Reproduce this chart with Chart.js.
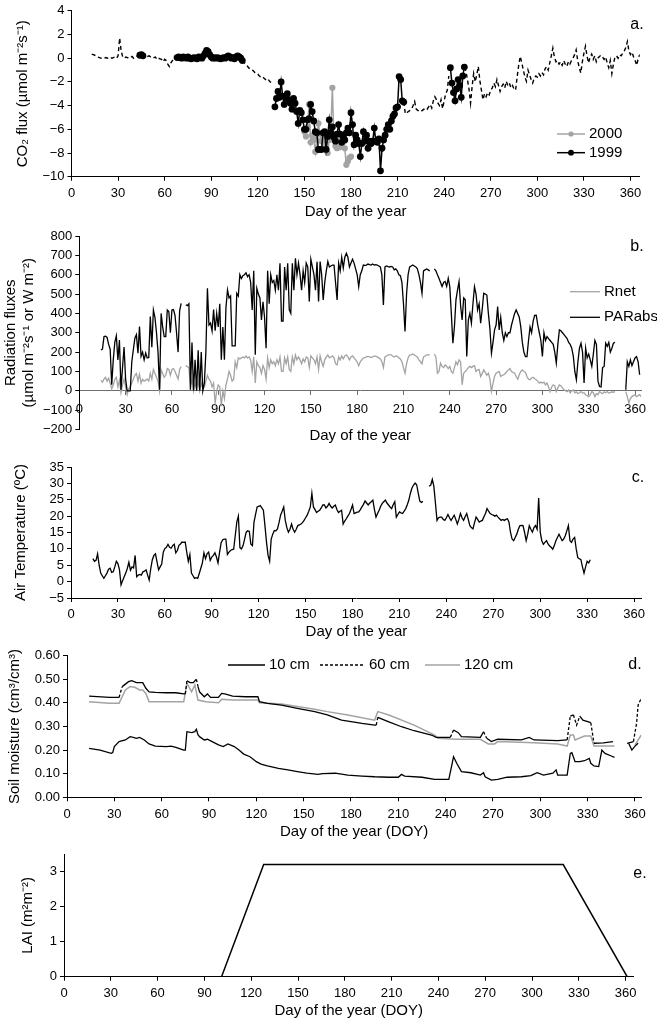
<!DOCTYPE html>
<html>
<head>
<meta charset="utf-8">
<script src="https://cdn.jsdelivr.net/npm/chart.js@4.4.1/dist/chart.umd.min.js"></script>
<style>
  html, body { margin: 0; padding: 0; background: #fff; }
  #wrap { position: relative; width: 657px; height: 1020px; overflow: hidden; }
  canvas { position: absolute; left: 0; }
</style>
</head>
<body>
<div id="wrap">
  <canvas id="chartA" width="657" height="221" style="top:0px"></canvas>
  <canvas id="chartB" width="657" height="224" style="top:221px"></canvas>
  <canvas id="chartC" width="657" height="196" style="top:445px"></canvas>
  <canvas id="chartD" width="657" height="200" style="top:641px"></canvas>
  <canvas id="chartE" width="657" height="179" style="top:841px"></canvas>
</div>
<script>
// ---- data ----
const dayTicks = [0, 30, 60, 90, 120, 150, 180, 210, 240, 270, 300, 330, 360];

// a. CO2 flux, gap-filled (dashed) runs
const fluxGapStart1 = 13;
const fluxGap1 = [0.35, 0.3, 0.25, 0.2, 0.1, 0.05, 0, -0.05, 0, 0.05,
  0, 0.05, 0.1, 0, 0.05, 0.1, 0, 0.2, 1.7, 0.6,
  0.1, 0, 0.1, 0.05, 0, 0.05, 0.15, 0, 0.1, 0.15,
  0.2, 0.25];
const fluxGapStart2 = 46;
const fluxGap2 = [0.2, 0.1, 0.3, 0.15, 0.2, 0.1, 0, 0.05, 0.1, -0.1,
  0, -0.05, -0.1, -0.3, -0.1, -0.2, -0.5, -0.7, -0.4, -0.2,
  0, 0.05, 0.05];
const fluxGapStart3 = 110;
const fluxGap3 = [-0.2, -0.35, -0.45, -0.6, -0.8, -0.9, -1.0, -1.05, -1.2, -1.3,
  -1.35, -1.5, -1.6, -1.55, -1.7, -1.8, -1.7, -1.85, -2.0, -2.1, -2.2];
const fluxGapStart4 = 214;
const fluxGap4 = [-3.7, -4.7, -4.6, -4.5, -4.4, -4.3, -4.0, -3.65, -4.3, -4.4,
  -4.5, -4.5, -4.4, -4.3, -4.2, -4.3, -4.1, -3.9, -4.2, -3.6,
  -3.25, -3.5, -3.8, -4.0, -3.5, -4.25, -3.6, -3.0, -2.7, -1.5];
const fluxGapStart5 = 253;
const fluxGap5 = [-0.75, -1.1, -1.8, -2.6, -3.8, -2.4, -1.3, -2.0, -1.4, -0.7,
  -1.9, -2.7, -3.5, -3.0, -3.25, -2.9, -3.1, -2.7, -2.5, -2.1,
  -2.4, -1.8, -2.3, -2.8, -2.4, -2.2, -2.5, -1.95, -2.3, -2.1,
  -2.5, -2.3, -2.6, -2.7, -1.6, -0.6, 0.15, -0.4, -1.0, -1.6,
  -1.95, -1.0, -1.4, -1.8, -2.1, -1.7, -1.5, -1.6, -1.3, -1.5,
  -1.2, -1.4, -0.9, -0.7, -1.0, -0.4, 0.2, 0.85, 0.1, -0.3,
  -0.2, -0.5, -0.3, -0.6, -0.2, -0.5, -0.7, -0.3, -0.5, -0.2,
  0.0, 0.3, 0.7, -0.2, -0.8, -1.25, -0.3, 0.4, 1.0, 0.2,
  -0.4, 0.1, 0.35, -0.1, 0.2, -0.3, 0.0, 0.15, 0.25, 0.1,
  -0.1, 0.1, -0.4, -0.8, -0.2, -1.3, -0.5, 0.1, 0.2, 0.0,
  0.3, 0.2, 0.4, 0.6, 0.9, 1.4, 0.6, 0.3, 0.5, 0.1,
  -0.2, -0.6, 0.0, 0.3];

// a. CO2 flux 1999 (measured)
const flux1999Start1 = 44;
const flux1999a = [0.25, 0.3, 0.2];
const flux1999Start2 = 68;
const flux1999b = [0.05, 0.1, 0.05, 0, 0.1, 0.05, 0, 0.1, 0, -0.05,
  0, 0.05, 0, -0.05, 0.1, 0.05, 0, 0.2, 0.4, 0.65,
  0.55, 0.3, 0.1, 0, 0.05, 0, 0.05, 0, -0.05, 0,
  0.05, 0, 0.1, 0.2, 0.1, 0, 0.05, -0.05, 0.1, 0.2,
  0.1, 0, -0.2];
const flux1999Start3 = 131;
const flux1999c = [-4.1, -3.4, -2.8, -3.3, -2.0, -3.2, -3.9, -3.3, -3.0, -3.5,
  -3.8, -4.3, -3.4, -3.8, -4.5, -5.5, -4.4, -4.6, -5.2, -6.0,
  -6.0, -5.2, -5.1, -3.9, -4.5, -5.3, -6.2, -6.3, -7.7, -7.7,
  -7.7, -6.3, -6.2, -7.7, -6.6, -5.2, -6.3, -5.8, -6.7, -7.0,
  -6.4, -5.6, -6.4, -7.1, -6.6, -6.9, -6.3, -5.9, -6.3, -4.6,
  -5.6, -7.3, -6.5, -6.9, -7.2, -8.3, -7.2, -6.2, -7.0, -6.5,
  -7.6, -7.0, -7.2, -7.0, -5.9, -7.0, -7.1, -6.8, -9.5, -7.6,
  -6.9, -6.5, -6.0, -5.6, -6.0, -5.3, -4.9, -4.7, -4.2, -4.1,
  -1.55, -1.8, -3.6, -3.7];
const flux1999Start4 = 244;
const flux1999d = [-0.8, -2.1, -2.9, -3.6, -2.6, -1.8, -2.3, -3.3, -1.5, -0.75];

// a. CO2 flux 2000
const flux2000Start = 150;
const flux2000 = [-6.2, -6.6, -5.8, -3.9, -7.1, -6.5, -6.8, -7.9, -6.9, -5.5,
  -6.4, -7.0, -6.6, -7.2, -7.6, -8.0, -6.9, -6.1, -2.5, -6.9,
  -7.4, -7.6, -6.5, -7.5, -7.0, -7.1, -7.6, -9.0, -8.7, -8.4,
  -8.3];

// b. radiation fluxes, daily from day 14
const radStart = 14;
const parAbs = [211, 215, 280, 282, 276, 240, 215, 31, 160, 250,
  284, 160, 262, 5, 120, 226, 60, 0, 0, 0,
  150, 212, 272, 290, 194, 332, 178, 200, 160, 195,
  170, 172, 384, 225, 418, 380, 300, 200, 5, 400,
  330, 280, 280, 418, 410, 300, 418, 420, 390, 300,
  200, 415, 452, null, null, 445, 440, 450, 5, 250,
  0, 160, 0, 210, 0, 200, 0, 40, 200, 530,
  340, 350, 310, 420, 310, 400, 330, 450, 160, 330,
  160, 430, 521, 480, 490, 232, 232, 232, 504, 490,
  600, 580, 595, 600, 610, 590, 600, 560, 418, 620,
  186, 530, 500, 480, 366, 460, 380, 220, 620, 450,
  600, 560, 570, 520, 600, 520, 659, 360, 360, 640,
  520, 659, 420, 401, 659, 520, 685, 600, 660, 600,
  520, 620, 560, 660, 640, 461, 680, 640, 600, 520,
  667, 461, 668, 600, 470, 560, 620, 668, 640, 645,
  650, 650, 560, 470, 660, 620, 690, 635, 690, 711,
  690, 640, 660, 680, 660, 630, 600, 538, 600, 620,
  650, 648, 650, 655, 652, 650, 655, 650, 652, 650,
  645, 640, 600, 444, 640, 645, 642, 640, 643, 640,
  625, 630, 620, 600, 595, 560, 450, 306, 500, 600,
  640, 645, 650, 645, 640, 630, 600, 560, 504, 620,
  625, 630, 625, 620, null, null, 630, 620, 600, 582,
  560, 539, 560, 565, 540, 582, 539, 400, 246, 330,
  470, 520, 564, 440, 366, 480, 470, 177, 366, 400,
  349, 450, 538, 500, 418, 450, 349, 420, 504, 500,
  495, 400, 320, 194, 250, 315, 340, 435, 315, 380,
  300, 260, 300, 280, 300, 300, 340, 370, 400, 418,
  400, 380, 330, 250, 200, 177, 177, 260, 330, 300,
  360, 390, 391, 340, 300, 260, 177, 300, 260, 280,
  270, 260, 250, 240, 200, 143, 240, 315, 310, 300,
  290, 280, 270, 250, 240, 220, 180, 100, 57, 150,
  220, 246, 200, 40, 220, 170, 190, 160, 126, 190,
  260, 240, 50, 22, 20, 120, 126, 246, 230, 250,
  200, 220, 246, 250, null, null, null, null, null, null,
  5, 150, 126, 160, 130, 150, 170, 177, 150, 83];
const rNet = [54, 45, 60, 70, 50, 65, 40, 10, 30, 60,
  70, 20, 55, -10, 30, 60, 20, -20, 10, 20,
  40, 60, 80, 90, 50, 85, 40, 60, 50, 55,
  60, 50, 90, 60, 110, 90, 70, 50, 0, 110,
  90, 70, 80, 115, 110, 80, 110, 115, 100, 80,
  60, 110, 125, null, null, 130, 125, 120, 20, 60,
  0, 40, 10, 50, 0, 40, 10, 20, 50, 80,
  60, 50, 20, 40, -64, 0, 30, 20, -80, 0,
  -40, 30, 60, 100, 80, 50, 60, 150, 120, 170,
  165, 170, 175, 170, 180, 170, 175, 160, 100, 175,
  40, 150, 130, 120, 90, 130, 110, 60, 170, 120,
  160, 140, 150, 130, 160, 140, 175, 100, 100, 170,
  140, 175, 110, 100, 175, 140, 185, 160, 175, 160,
  140, 165, 150, 175, 170, 120, 180, 170, 160, 140,
  175, 110, 180, 150, 126, 160, 175, 185, 170, 175,
  180, 170, 140, 134, 175, 160, 180, 165, 180, 186,
  175, 160, 175, 180, 170, 160, 150, 130, 150, 160,
  170, 172, 175, 178, 175, 172, 175, 180, 178, 175,
  170, 165, 150, 120, 175, 180, 186, 186, 186, 180,
  175, 180, 178, 170, 165, 150, 120, 91, 140, 170,
  185, 186, 190, 186, 180, 175, 160, 150, 140, 175,
  180, 186, 186, 185, null, null, 190, 175, 91, 100,
  143, 126, 120, 134, 126, 115, 126, 100, 91, 120,
  150, 134, 160, 150, 31, 91, 100, 108, 120, 126,
  120, 126, 130, 100, 108, 110, 74, 90, 108, 95,
  80, 91, 60, -4, 40, 74, 91, 95, 100, 74,
  80, 83, 91, 100, 108, 115, 100, 95, 91, 74,
  60, 83, 100, 108, 100, 95, 74, 60, 57, 66,
  70, 62, 57, 50, 40, 45, 40, 45, 31, 40,
  20, -4, 20, 31, 25, -4, 15, 30, 25, 15,
  5, 0, -4, 5, -10, 0, 5, -10, -5, -15,
  -10, -4, -12, -10, -21, -25, -30, -20, -4, -10,
  -30, -15, -20, -4, -10, -15, -5, -10, -4, -12,
  -10, -5, -8, -4, null, null, null, null, null, null,
  -4, -30, -64, -40, -30, -25, -21, -30, -25, -20,
  -30, -25];

// c. air temperature, daily from day 14
const tempStart = 14;
const airTemp = [7.0, 6.2, 6.5, 8.5, 5.0, 2.6, 1.8, 1.0, 1.8, 2.6,
  3.8, 4.1, 2.8, 3.0, 4.5, 6.2, 5.5, 3.6, -1.0, 0.3,
  1.5, 2.6, 4.0, 5.9, 3.5, 4.5, 4.2, 8.0, 1.5, 2.0,
  2.2, 2.0, 3.0, 3.2, 3.6, 2.0, 0.5, 4.0, 6.7, 8.0,
  8.5, 6.0, 3.6, 4.5, 5.4, 9.0, 10.1, 10.5, 11.4, 10.5,
  10.2, 11.0, 11.4, 8.8, 9.5, 11.1, 11.5, 12.1, 12.0, 12.1,
  9.0, 6.2, 8.3, 2.6, 1.8, 1.0, 1.2, 1.0, 2.5, 4.1,
  5.7, 8.8, 7.0, 8.5, 9.0, 6.5, 7.5, 8.0, 8.8, 7.5,
  5.7, 9.0, 11.9, 12.8, 13.0, 13.0, 8.3, 9.0, 9.5, 9.8,
  9.9, 14.0, 18.2, 20.0, 10.4, 10.0, 11.0, 13.0, 15.1, 15.5,
  15.3, 11.4, 11.0, 18.2, 20.5, 22.8, 23.0, 23.2, 22.5, 21.8,
  17.1, 12.0, 8.0, 6.2, 13.0, 14.5, 15.6, 15.5, 16.1, 18.0,
  20.3, 21.5, 22.8, 18.7, 16.5, 15.1, 16.0, 17.6, 16.0, 15.1,
  16.0, 17.1, 17.3, 17.6, 18.0, 18.7, 19.5, 20.3, 21.5, 22.8,
  27.0, 22.8, 22.0, 21.1, 21.5, 21.8, 22.5, 23.4, 23.4, 22.5,
  23.0, 23.9, 23.0, 22.5, 23.0, 23.4, 22.0, 21.1, 21.5, 21.8,
  17.6, 18.5, 19.2, 20.0, 20.8, 22.0, 23.4, 20.8, 21.0, 21.2,
  21.3, 22.0, 22.8, 23.6, 24.6, 24.0, 23.4, 24.0, 24.4, 24.9,
  22.0, 19.7, 20.8, 21.8, 23.0, 23.9, 24.4, 24.9, 24.0, 23.4,
  22.8, 22.3, 23.5, 24.4, 19.7, 20.5, 21.3, 21.0, 20.8, 21.5,
  22.3, 23.5, 24.9, 27.0, 28.6, 29.5, 30.1, 29.6, 27.0, 24.6,
  24.2, 24.5, null, null, null, 29.1, 29.5, 31.2, 29.1, 24.0,
  18.7, 19.5, 19.7, 19.7, 19.0, 18.7, 19.5, 20.5, 19.5, 18.7,
  19.5, 20.3, 19.0, 17.6, 19.0, 20.8, 19.5, 18.7, 19.8, 20.8,
  19.0, 17.1, 16.5, 16.1, 18.0, 19.7, 19.0, 18.2, 18.5, 18.7,
  19.8, 20.8, 22.3, 21.5, 20.8, 20.5, 20.3, 20.0, 20.3, 19.7,
  19.2, 18.7, 19.0, 18.7, 19.0, 19.2, 18.2, 15.0, 13.0, 12.5,
  13.5, 14.5, 16.0, 17.1, 17.2, 17.1, 15.0, 12.5, 14.5, 17.1,
  16.0, 15.1, 16.5, 17.1, 16.0, 25.5, 15.1, 12.5, 11.4, 12.0,
  12.5, 11.5, 10.9, 10.5, 9.9, 11.0, 12.5, 13.5, 14.5, 13.5,
  12.5, 13.0, 14.0, 15.5, 17.1, 12.5, 12.0, 13.0, 13.5, 10.0,
  7.3, 7.0, 6.7, 4.5, 2.6, 4.5, 6.2, 5.7, 6.7];

// d. soil moisture
const soil10Days = [14, 21, 28, 29, 30, 33, 37, 40, 42, 44,
  46, 49, 52, 56, 63, 66, 69, 74, 75, 76,
  79, 81, 82, 83, 84, 87, 89, 92, 96, 99,
  102, 106, 109, 112, 116, 120, 123, 127, 134, 140,
  146, 152, 159, 162, 170, 178, 187, 195, 204, 210,
  212, 214, 225, 233, 242, 244, 245, 247, 250, 256,
  262, 264, 265, 269, 273, 279, 288, 294, 298, 302,
  308, 310, 311, 317, 319, 320, 322, 325, 328, 331,
  332, 334, 337, 339, 341, 345, 347, 348, 356, 358,
  360, 362];
const soil10 = [0.207, 0.200, 0.186, 0.190, 0.215, 0.236, 0.243, 0.257, 0.254, 0.250,
  0.254, 0.243, 0.226, 0.217, 0.215, 0.217, 0.212, 0.200, 0.200, 0.278,
  0.274, 0.278, 0.288, 0.265, 0.257, 0.243, 0.246, 0.236, 0.222, 0.215,
  0.226, 0.215, 0.200, 0.183, 0.172, 0.151, 0.141, 0.133, 0.123, 0.116,
  0.109, 0.102, 0.097, 0.100, 0.102, 0.094, 0.090, 0.087, 0.085, 0.085,
  0.097, 0.090, 0.085, 0.076, 0.076, 0.140, 0.172, 0.144, 0.109, 0.104,
  0.094, 0.104, 0.087, 0.073, 0.076, 0.085, 0.087, 0.092, 0.104, 0.094,
  0.102, 0.116, 0.094, 0.094, 0.186, 0.189, 0.151, 0.151, 0.155, 0.165,
  0.144, 0.133, 0.130, 0.200, 0.186, 0.175, 0.169, null, 0.229, 0.200,
  0.217, 0.229];
const soil60Days = [14, 27, 33, 35, 39, 41, 44, 48, 50, 52,
  56, 63, 69, 74, 75, 76, 78, 80, 82, 83,
  84, 87, 89, 91, 96, 98, 100, 105, 113, 121,
  122, 127, 136, 146, 157, 165, 174, 187, 195, 196,
  197, 204, 212, 220, 231, 234, 243, 245, 248, 250,
  262, 264, 266, 269, 273, 288, 293, 296, 311, 317,
  319, 321, 323, 325, 327, 332, 334, 340, 346, 348,
  355, 359, 361, 362, 364, 365];
const soil60 = [0.429, 0.423, 0.423, 0.469, 0.490, 0.494, 0.486, 0.486, 0.462, 0.447,
  0.445, 0.443, 0.443, 0.438, 0.438, 0.494, 0.486, 0.486, 0.500, 0.470,
  0.447, 0.426, 0.438, 0.423, 0.423, 0.440, 0.438, 0.429, 0.426, 0.426,
  0.405, 0.398, 0.391, 0.377, 0.363, 0.349, 0.327, 0.313, 0.306, 0.306,
  0.339, 0.320, 0.299, 0.282, 0.264, 0.254, 0.254, 0.285, 0.274, 0.257,
  0.254, 0.278, 0.250, 0.236, 0.246, 0.243, 0.254, 0.243, 0.240, 0.243,
  0.344, 0.349, 0.306, 0.344, 0.327, 0.316, 0.229, 0.231, 0.236, null,
  0.229, 0.236, 0.313, 0.391, 0.420, 0.405];
const soil120Days = [14, 27, 33, 37, 40, 43, 46, 48, 50, 52,
  74, 76, 79, 81, 83, 88, 96, 98, 105, 121,
  122, 136, 157, 165, 178, 195, 197, 204, 220, 233,
  235, 246, 262, 267, 271, 273, 296, 311, 317, 319,
  321, 322, 328, 332, 334, 347, 348, 360, 364];
const soil120 = [0.405, 0.398, 0.398, 0.455, 0.469, 0.466, 0.455, 0.455, 0.440, 0.405,
  0.405, 0.483, 0.447, 0.476, 0.412, 0.405, 0.401, 0.415, 0.412, 0.412,
  0.401, 0.395, 0.373, 0.363, 0.349, 0.327, 0.363, 0.349, 0.306, 0.264,
  0.250, 0.246, 0.246, 0.226, 0.226, 0.236, 0.231, 0.226, 0.217, 0.264,
  0.264, 0.243, 0.260, 0.260, 0.217, 0.217, null, 0.222, 0.264];

// e. leaf area index
const laiDays = [6, 101, 128, 320, 361];
const laiVals = [0, 0, 3.2, 3.2, 0];

// ---- helpers ----
const FONT = '"Liberation Sans", Arial, Helvetica, sans-serif';
Chart.defaults.font.family = FONT;
Chart.defaults.font.size = 13;
Chart.defaults.color = '#000';
Chart.defaults.animation = false;
Chart.defaults.plugins.legend.display = false;
Chart.defaults.plugins.tooltip.enabled = false;

function run(start, vals) {
  return vals.map((v, i) => ({ x: start + i, y: v }));
}
function pairs(days, vals) {
  return days.map((d, i) => ({ x: d, y: vals[i] }));
}
function joinRuns(runs) {
  const out = [];
  runs.forEach((r, k) => {
    if (k > 0) out.push({ x: r[0] - 0.5, y: null });
    out.push(...run(r[0], r[1]));
  });
  return out;
}
const minus = v => String(v).replace('-', '\u2212');

function dayAxis(o) {
  return {
    type: 'linear', min: 0, max: o.max,
    position: o.position || 'bottom',
    afterBuildTicks: s => { s.ticks = dayTicks.map(v => ({ value: v })); },
    afterFit: s => { if (o.height) s.height = o.height; },
    ticks: { padding: o.pad == null ? 5 : o.pad, maxRotation: 0, autoSkip: false, color: '#000', font: { size: 13 } },
    grid: { display: true, drawOnChartArea: false, drawTicks: true, tickLength: 4, color: o.lineColor || '#000' },
    border: { display: true, color: o.lineColor || '#000', width: 1 },
    title: o.title ? { display: true, text: o.title, color: '#000', font: { size: 15 }, padding: 0 } : { display: false }
  };
}
function valueAxis(o) {
  return {
    type: 'linear', min: o.min, max: o.max,
    afterBuildTicks: s => { s.ticks = o.ticks.map(v => ({ value: v })); },
    afterFit: s => { s.width = o.width; },
    ticks: { padding: 3, autoSkip: false, color: '#000', font: { size: 13 }, callback: o.fmt || minus },
    grid: { display: true, drawOnChartArea: false, drawTicks: true, tickLength: 4, color: '#000' },
    border: { display: true, color: '#000', width: 1 },
    title: { display: true, text: o.title, color: '#000', font: { size: 15 }, padding: { top: o.titlePad, bottom: 0 } }
  };
}

const panelNotes = {
  id: 'panelNotes',
  afterDraw(chart, args, opts) {
    const ctx = chart.ctx;
    ctx.save();
    (opts.legend || []).forEach(item => {
      const ds = chart.data.datasets[item.dataset];
      ctx.strokeStyle = ds.borderColor;
      ctx.lineWidth = ds.borderWidth;
      ctx.setLineDash(item.dash || []);
      ctx.beginPath();
      ctx.moveTo(item.x1, item.y);
      ctx.lineTo(item.x2, item.y);
      ctx.stroke();
      ctx.setLineDash([]);
      if (ds.pointRadius) {
        ctx.fillStyle = ds.pointBackgroundColor;
        ctx.beginPath();
        ctx.arc((item.x1 + item.x2) / 2, item.y, ds.pointRadius - 0.5, 0, Math.PI * 2);
        ctx.fill();
      }
      ctx.fillStyle = '#000';
      ctx.font = '15px ' + FONT;
      ctx.textAlign = 'left';
      ctx.textBaseline = 'middle';
      ctx.fillText(ds.label, item.x2 + 4, item.y);
    });
    if (opts.tag) {
      ctx.fillStyle = '#000';
      ctx.font = '16px ' + FONT;
      ctx.textAlign = 'center';
      ctx.textBaseline = 'middle';
      ctx.fillText(opts.tag.text, opts.tag.x, opts.tag.y);
    }
    ctx.restore();
  }
};

const GREY = '#a3a3a3';

// ---- a. CO2 flux ----
new Chart(document.getElementById('chartA'), {
  type: 'line',
  data: {
    datasets: [
      {
        label: '1999',
        data: joinRuns([[flux1999Start1, flux1999a], [flux1999Start2, flux1999b], [flux1999Start3, flux1999c], [flux1999Start4, flux1999d]]),
        borderColor: '#000', borderWidth: 1.5,
        pointRadius: 3.4, pointBackgroundColor: '#000', pointBorderWidth: 0
      },
      {
        label: '2000',
        data: run(flux2000Start, flux2000),
        borderColor: GREY, borderWidth: 1.5,
        pointRadius: 3.1, pointBackgroundColor: GREY, pointBorderWidth: 0
      },
      {
        label: 'gap filled',
        data: joinRuns([[fluxGapStart1, fluxGap1], [fluxGapStart2, fluxGap2], [fluxGapStart3, fluxGap3], [fluxGapStart4, fluxGap4], [fluxGapStart5, fluxGap5]]),
        borderColor: '#000', borderWidth: 1.4, borderDash: [4, 3], pointRadius: 0
      }
    ]
  },
  options: {
    responsive: false,
    layout: { padding: { top: 9.3, right: 17.2, left: 0, bottom: 0 } },
    scales: {
      x: dayAxis({ max: 366, height: 44.3, title: 'Day of the year' }),
      y: valueAxis({ min: -10, max: 4, ticks: [-10, -8, -6, -4, -2, 0, 2, 4], width: 71.5, titlePad: 14,
        title: 'CO\u2082 flux (\u00b5mol m\u207b\u00b2s\u207b\u00b9)' })
    },
    plugins: {
      panelNotes: {
        tag: { text: 'a.', x: 637, y: 25 },
        legend: [
          { dataset: 1, x1: 557, x2: 585, y: 134 },
          { dataset: 0, x1: 557, x2: 585, y: 152.7 }
        ]
      }
    }
  },
  plugins: [panelNotes]
});

// ---- b. radiation ----
new Chart(document.getElementById('chartB'), {
  type: 'line',
  data: {
    datasets: [
      { label: 'PARabs', data: run(radStart, parAbs), borderColor: '#000', borderWidth: 1.3, pointRadius: 0 },
      { label: 'Rnet', data: run(radStart, rNet), borderColor: GREY, borderWidth: 1.3, pointRadius: 0 }
    ]
  },
  options: {
    responsive: false,
    layout: { padding: { top: 15, right: 15.8, left: 0, bottom: 0 } },
    scales: {
      x: dayAxis({ max: 364, position: { y: 0 }, pad: 7, lineColor: '#6e6e6e' }),
      xt: {
        type: 'linear', position: 'bottom', min: 0, max: 364,
        afterFit: s => { s.height = 15.5; },
        ticks: { display: false },
        grid: { display: false, drawTicks: false },
        border: { display: false },
        title: { display: true, text: 'Day of the year', color: '#000', font: { size: 15 }, padding: 0 }
      },
      y: valueAxis({ min: -200, max: 800, ticks: [-200, -100, 0, 100, 200, 300, 400, 500, 600, 700, 800], width: 79.3, titlePad: 2,
        title: ['Radiation fluxes', '(\u00b5mol m\u207b\u00b2s\u207b\u00b9 or W m\u207b\u00b2)'] })
    },
    plugins: {
      panelNotes: {
        tag: { text: 'b.', x: 637, y: 25.7 },
        legend: [
          { dataset: 1, x1: 570, x2: 600, y: 70.7 },
          { dataset: 0, x1: 570, x2: 600, y: 96.3 }
        ]
      }
    }
  },
  plugins: [panelNotes]
});

// ---- c. air temperature ----
new Chart(document.getElementById('chartC'), {
  type: 'line',
  data: {
    datasets: [
      { label: 'Air temperature', data: run(tempStart, airTemp), borderColor: '#000', borderWidth: 1.3, pointRadius: 0 }
    ]
  },
  options: {
    responsive: false,
    layout: { padding: { top: 22, right: 15.1, left: 0, bottom: 0 } },
    scales: {
      x: dayAxis({ max: 365, height: 43, title: 'Day of the year' }),
      y: valueAxis({ min: -5, max: 35, ticks: [-5, 0, 5, 10, 15, 20, 25, 30, 35], width: 71, titlePad: 12,
        title: 'Air Temperature (\u00baC)' })
    },
    plugins: {
      panelNotes: { tag: { text: 'c.', x: 638, y: 32.7 } }
    }
  },
  plugins: [panelNotes]
});

// ---- d. soil moisture ----
new Chart(document.getElementById('chartD'), {
  type: 'line',
  data: {
    datasets: [
      { label: '10 cm', data: pairs(soil10Days, soil10), borderColor: '#000', borderWidth: 1.3, pointRadius: 0 },
      {
        label: '60 cm', data: pairs(soil60Days, soil60), borderColor: '#000', borderWidth: 1.3, pointRadius: 0,
        segment: { borderDash: c => (Math.abs(c.p1.y - c.p0.y) > 6 ? [3, 2] : []) }
      },
      { label: '120 cm', data: pairs(soil120Days, soil120), borderColor: GREY, borderWidth: 1.5, pointRadius: 0 }
    ]
  },
  options: {
    responsive: false,
    layout: { padding: { top: 14.7, right: 15.7, left: 0, bottom: 0 } },
    scales: {
      x: dayAxis({ max: 364, height: 43.7, title: 'Day of the year (DOY)' }),
      y: valueAxis({ min: 0, max: 0.6, ticks: [0, 0.1, 0.2, 0.3, 0.4, 0.5, 0.6], width: 67, titlePad: 6,
        fmt: v => Number(v).toFixed(2), title: 'Soil moisture (cm\u00b3/cm\u00b3)' })
    },
    plugins: {
      panelNotes: {
        tag: { text: 'd.', x: 635, y: 24 },
        legend: [
          { dataset: 0, x1: 228, x2: 265, y: 24 },
          { dataset: 1, x1: 320, x2: 365, y: 24, dash: [3, 2] },
          { dataset: 2, x1: 425, x2: 460, y: 24 }
        ]
      }
    }
  },
  plugins: [panelNotes]
});

// ---- e. LAI ----
new Chart(document.getElementById('chartE'), {
  type: 'line',
  data: {
    datasets: [
      { label: 'LAI', data: pairs(laiDays, laiVals), borderColor: '#000', borderWidth: 1.5, pointRadius: 0 }
    ]
  },
  options: {
    responsive: false,
    layout: { padding: { top: 13, right: 23.6, left: 0, bottom: 0 } },
    scales: {
      x: dayAxis({ max: 365, height: 43.3, title: 'Day of the year (DOY)' }),
      y: valueAxis({ min: 0, max: 3.5, ticks: [0, 1, 2, 3], width: 64, titlePad: 19,
        title: 'LAI (m\u00b2m\u207b\u00b2)' })
    },
    plugins: {
      panelNotes: { tag: { text: 'e.', x: 640, y: 33 } }
    }
  },
  plugins: [panelNotes]
});
</script>
</body>
</html>
